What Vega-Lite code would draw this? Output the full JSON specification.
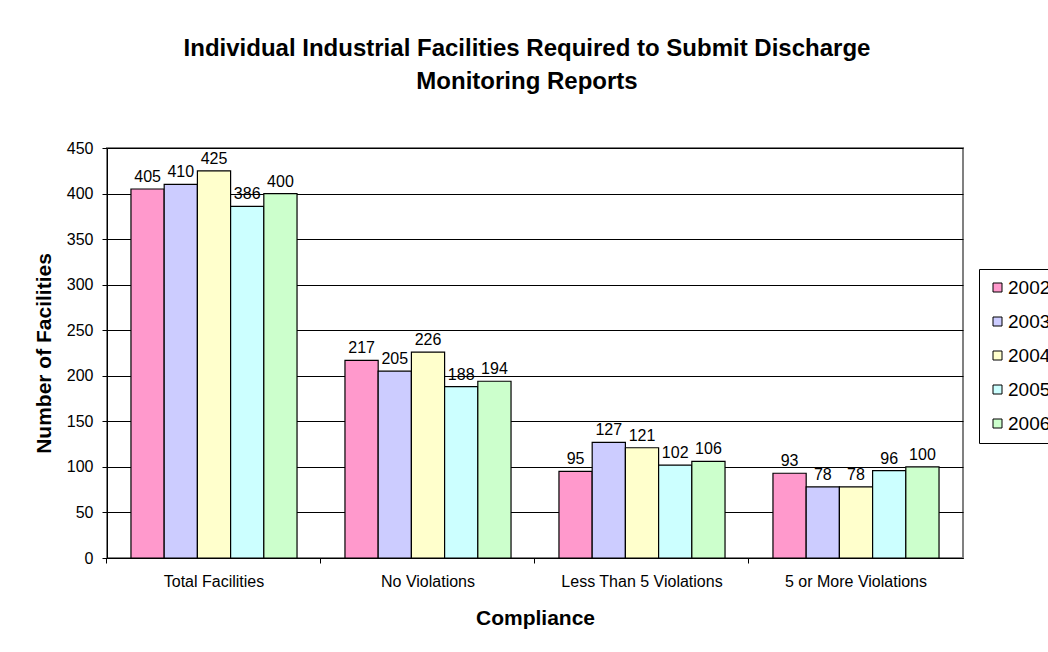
{
  "$schema": "https://vega.github.io/schema/vega-lite/v6.json",
  "autosize": "none",
  "width": 856,
  "height": 410,
  "padding": {"left": 107, "top": 148, "right": 85, "bottom": 94},
  "background": "white",
  "title": {
    "text": ["Individual Industrial Facilities Required to Submit Discharge", "Monitoring Reports"],
    "font": "Liberation Sans",
    "fontSize": 24,
    "fontWeight": "bold",
    "color": "black",
    "anchor": "middle",
    "frame": "group",
    "baseline": "alphabetic",
    "lineHeight": 33,
    "offset": 27,
    "dx": -8
  },
  "config": {
    "font": "Liberation Sans",
    "view": {"stroke": "#808080", "strokeWidth": 2},
    "axis": {
      "labelColor": "black",
      "titleColor": "black",
      "labelFont": "Liberation Sans",
      "titleFont": "Liberation Sans",
      "labelFontSize": 16,
      "titleFontSize": 21,
      "titleFontWeight": "bold",
      "domainColor": "black",
      "tickColor": "black"
    }
  },
  "data": {
    "values": [
      {"compliance": "Total Facilities", "year": "2002", "facilities": 405},
      {"compliance": "Total Facilities", "year": "2003", "facilities": 410},
      {"compliance": "Total Facilities", "year": "2004", "facilities": 425},
      {"compliance": "Total Facilities", "year": "2005", "facilities": 386},
      {"compliance": "Total Facilities", "year": "2006", "facilities": 400},
      {"compliance": "No Violations", "year": "2002", "facilities": 217},
      {"compliance": "No Violations", "year": "2003", "facilities": 205},
      {"compliance": "No Violations", "year": "2004", "facilities": 226},
      {"compliance": "No Violations", "year": "2005", "facilities": 188},
      {"compliance": "No Violations", "year": "2006", "facilities": 194},
      {"compliance": "Less Than 5 Violations", "year": "2002", "facilities": 95},
      {"compliance": "Less Than 5 Violations", "year": "2003", "facilities": 127},
      {"compliance": "Less Than 5 Violations", "year": "2004", "facilities": 121},
      {"compliance": "Less Than 5 Violations", "year": "2005", "facilities": 102},
      {"compliance": "Less Than 5 Violations", "year": "2006", "facilities": 106},
      {"compliance": "5 or More Violations", "year": "2002", "facilities": 93},
      {"compliance": "5 or More Violations", "year": "2003", "facilities": 78},
      {"compliance": "5 or More Violations", "year": "2004", "facilities": 78},
      {"compliance": "5 or More Violations", "year": "2005", "facilities": 96},
      {"compliance": "5 or More Violations", "year": "2006", "facilities": 100}
    ]
  },
  "encoding": {
    "x": {
      "field": "compliance",
      "type": "nominal",
      "sort": ["Total Facilities", "No Violations", "Less Than 5 Violations", "5 or More Violations"],
      "scale": {"paddingInner": 0.224, "paddingOuter": 0.112},
      "axis": {
        "title": "Compliance",
        "labelAngle": 0,
        "bandPosition": -0.1446,
        "labelOffset": 0,
        "tickSize": 5,
        "labelPadding": 10,
        "labelBaseline": "top",
        "titleX": 428,
        "titleY": 60,
        "titleBaseline": "middle",
        "titleAnchor": "middle",
        "titleAlign": "center"
      }
    },
    "xOffset": {
      "field": "year",
      "type": "nominal",
      "scale": {"paddingInner": 0, "paddingOuter": 0}
    },
    "y": {
      "field": "facilities",
      "type": "quantitative",
      "scale": {"domain": [0, 450], "nice": false},
      "axis": {
        "title": "Number of Facilities",
        "values": [0, 50, 100, 150, 200, 250, 300, 350, 400, 450],
        "grid": true,
        "gridColor": "black",
        "gridWidth": 1,
        "tickSize": 5,
        "labelPadding": 9,
        "titleAngle": -90,
        "titleX": -63,
        "titleY": 205,
        "titleBaseline": "middle",
        "titleAlign": "center"
      }
    }
  },
  "layer": [
    {
      "mark": {"type": "bar", "stroke": "black", "strokeWidth": 1.2},
      "encoding": {
        "fill": {
          "field": "year",
          "type": "nominal",
          "scale": {
            "domain": ["2002", "2003", "2004", "2005", "2006"],
            "range": ["#FF99CC", "#CCCCFF", "#FFFFCC", "#CCFFFF", "#CCFFCC"]
          },
          "legend": {
            "title": null,
            "orient": "none",
            "legendX": 872,
            "legendY": 121,
            "padding": 9,
            "rowPadding": 14,
            "symbolType": "square",
            "symbolSize": 81,
            "symbolStrokeColor": "black",
            "symbolStrokeWidth": 1,
            "labelFontSize": 19,
            "labelFont": "Liberation Sans",
            "labelColor": "black",
            "labelOffset": 1,
            "fillColor": "white",
            "strokeColor": "black"
          }
        }
      }
    },
    {
      "mark": {"type": "text", "baseline": "alphabetic", "dy": -7, "fontSize": 16, "font": "Liberation Sans", "color": "black"},
      "encoding": {
        "text": {"field": "facilities", "type": "quantitative"}
      }
    }
  ]
}
